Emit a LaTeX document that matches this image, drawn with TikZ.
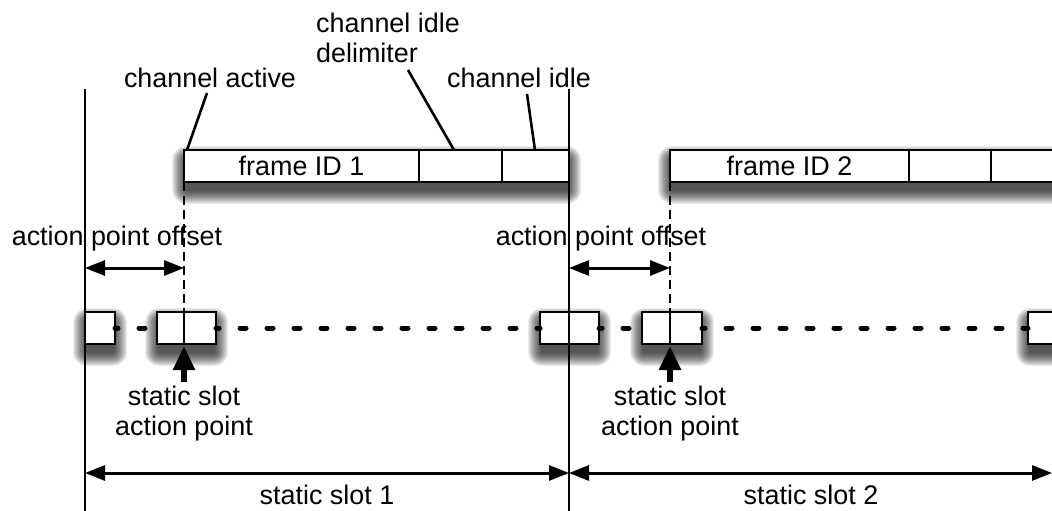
\documentclass[tikz,border=0pt]{standalone}
\usepackage{fontspec}
\setmainfont{Liberation Sans}
\usetikzlibrary{arrows.meta}
\pgfdeclarelayer{shadowlayer}
\pgfsetlayers{shadowlayer,main}

% soft drop shadow built from stacked translucent rectangles
\newcommand\dropshade[2]{%
  \foreach \r in {1,...,14}{%
    \fill[black, opacity=0.075, rounded corners=\r pt]
      ([xshift=-\r pt+2pt, yshift=\r pt-10pt]#1) rectangle ([xshift=\r pt-2pt, yshift=-\r pt-8pt]#2);
  }%
}

\begin{document}
\begin{tikzpicture}[x=1pt,y=-1pt,
  lbl/.style={font=\fontsize{26.9}{30}\selectfont, inner sep=0pt},
  cell/.style={draw, fill=white, line width=2.8pt, inner sep=0pt, outer sep=0pt,
    anchor=north west, minimum height=32pt, font=\fontsize{26.9}{30}\selectfont},
  guide/.style={line width=2.6pt},
  dashguide/.style={line width=2.6pt, dash pattern=on 9pt off 5pt},
  leader/.style={line width=2.6pt},
  dotrow/.style={line width=5pt, line cap=round, dash pattern=on 6pt off 21pt, dash phase=3pt},
  span/.style={line width=3pt, {Triangle[length=20pt,width=15pt]}-{Triangle[length=20pt,width=15pt]}},
  pointer/.style={line width=5.5pt, -{Triangle[length=24pt,width=21pt]}},
]
\useasboundingbox (0,0) rectangle (1052,511);
\clip (0,0) rectangle (1052,511);

% slot boundaries
\coordinate (g1top) at (85,89);   \coordinate (g1bot) at (85,511);
\coordinate (g2top) at (569,89);  \coordinate (g2bot) at (569,511);

% frames
\node[cell, minimum width=235pt] (f1)  at (184,150) {frame ID 1};
\node[cell, minimum width=83pt]  (f1d) at (f1.north east) {};
\node[cell, minimum width=67pt]  (f1i) at (f1d.north east) {};
\node[cell, minimum width=239pt] (f2)  at (670,150) {frame ID 2};
\node[cell, minimum width=82pt]  (f2d) at (f2.north east) {};
\node[cell, minimum width=80pt]  (f2i) at (f2d.north east) {};

% action point markers on the time line
\node[cell, minimum width=30pt] (sA) at (85,312) {};
\node[cell, minimum width=27pt] (sB) at (157,312) {};
\node[cell, minimum width=32pt] (sC) at (sB.north east) {};
\node[cell, minimum width=29pt] (sD) at (540,312) {};
\node[cell, minimum width=30pt] (sE) at (sD.north east) {};
\node[cell, minimum width=28pt] (sF) at (642,312) {};
\node[cell, minimum width=32pt] (sG) at (sF.north east) {};
\node[cell, minimum width=40pt] (sH) at (1028,312) {};

\begin{pgfonlayer}{shadowlayer}
  \dropshade{f1.north west}{f1i.south east}
  \dropshade{f2.north west}{f2i.south east}
  \dropshade{sA.north west}{sA.south east}
  \dropshade{sB.north west}{sC.south east}
  \dropshade{sD.north west}{sE.south east}
  \dropshade{sF.north west}{sG.south east}
  \dropshade{sH.north west}{sH.south east}
\end{pgfonlayer}

% dotted time line between markers
\draw[dotrow] (sA.east) -- (sB.west);
\draw[dotrow] (sC.east) -- (sD.west);
\draw[dotrow] (sE.east) -- (sF.west);
\draw[dotrow] (sG.east) -- (sH.west);

% vertical guides
\draw[guide] (g1top) -- (g1bot);
\draw[guide] (g2top) -- (g2bot);
\draw[dashguide] (f1.south west) -- (sC.north west);
\draw[dashguide] (f2.south west) -- (sG.north west);

% labels above the frame
\node[lbl, anchor=base] (tca) at (210,87) {channel active};
\node[lbl, anchor=base] (tci) at (519,87) {channel idle};
\node[lbl, anchor=north west, align=left] (tcd) at (316,13) {channel idle\\delimiter};
\coordinate (ca1) at (187,150); \coordinate (ca2) at (207,93);
\coordinate (cd1) at (454,150); \coordinate (cd2) at (408,70);
\coordinate (ci1) at (535,150); \coordinate (ci2) at (527,94);
\draw[leader] (ca1) -- (ca2);
\draw[leader] (cd1) -- (cd2);
\draw[leader] (ci1) -- (ci2);

% action point offsets
\node[lbl, anchor=base] (apo1) at (117,245) {action point offset};
\node[lbl, anchor=base] (apo2) at (601,245) {action point offset};
\coordinate (o1) at (85,268);  \coordinate (o2) at (184,268);
\coordinate (o3) at (569,268); \coordinate (o4) at (670,268);
\draw[span] (o1) -- (o2);
\draw[span] (o3) -- (o4);

% action point pointers
\coordinate (p1) at (184,382);
\coordinate (p2) at (670,382);
\draw[pointer] (p1) -- ([yshift=-2pt]sC.south west);
\draw[pointer] (p2) -- ([yshift=-2pt]sG.south west);
\node[lbl, anchor=north, align=center] (ap1) at (184,386) {static slot\\action point};
\node[lbl, anchor=north, align=center] (ap2) at (670,386) {static slot\\action point};

% slot lengths
\coordinate (a1) at (85,473); \coordinate (a2) at (569,473); \coordinate (a3) at (1052,473);
\draw[span] (a1) -- (a2);
\draw[span] (a2) -- (a3);
\node[lbl, anchor=base] (ss1) at (327,504) {static slot 1};
\node[lbl, anchor=base] (ss2) at (811,504) {static slot 2};
\end{tikzpicture}
\end{document}
